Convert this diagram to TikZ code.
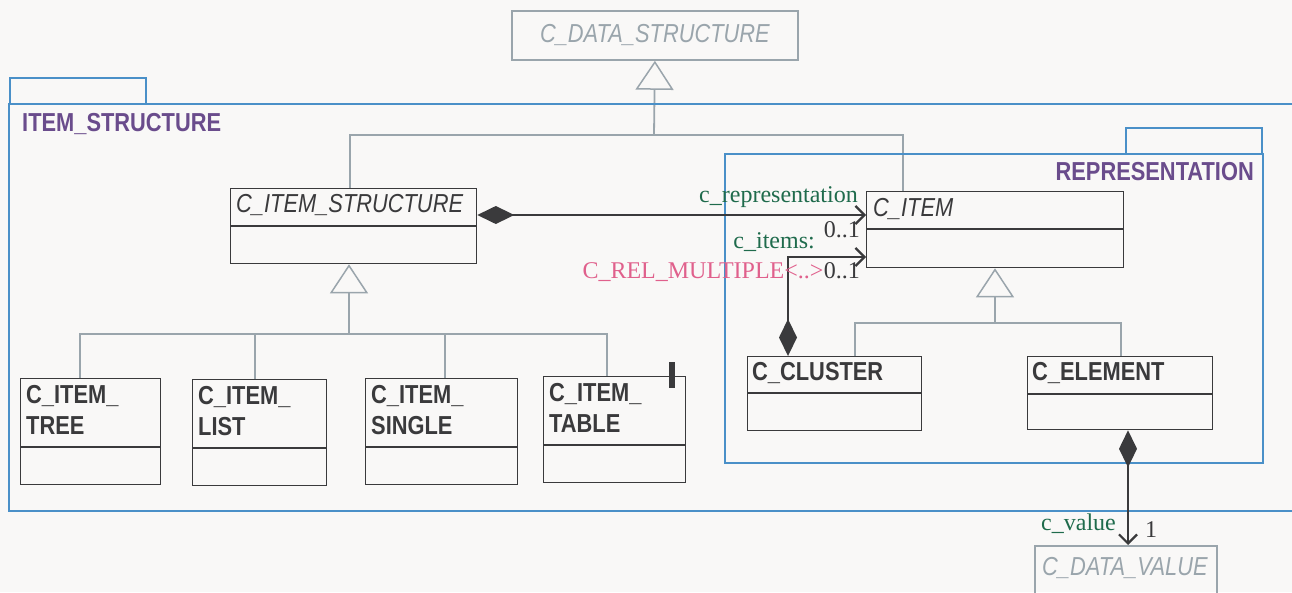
\documentclass[tikz,border=0pt]{standalone}
\usepackage{fontspec}
\setmainfont{Liberation Serif}
\setsansfont{Liberation Sans}[FakeStretch=0.84]
\usepackage{xcolor}
\usepackage{tikz}
\usetikzlibrary{calc}
\usetikzlibrary{arrows.meta, positioning, backgrounds}

\definecolor{paper}{HTML}{F9F8F7}
\definecolor{pkgblue}{HTML}{4A90C8}
\definecolor{pkgpurple}{HTML}{6A4C8C}
\definecolor{gengrey}{HTML}{9AA5AC}
\definecolor{boxdark}{HTML}{3A3A3C}
\definecolor{rolegreen}{HTML}{1F6B4C}
\definecolor{relpink}{HTML}{E0608C}

\begin{document}
\begin{tikzpicture}[x=1pt,y=-1pt,
                    class box/.style={draw=boxdark,line width=1.3pt,rectangle,anchor=north west,inner sep=0pt},
                    ghost box/.style={draw=gengrey,line width=1.8pt,rectangle,anchor=north west,inner sep=0pt},
                    class title/.style={font=\sffamily\bfseries\fontsize{26}{31}\selectfont,text=boxdark,anchor=north west,align=left,inner sep=0pt},
                    abstract title/.style={font=\sffamily\itshape\fontsize{26}{31}\selectfont,text=boxdark,anchor=north west,inner sep=0pt},
                    pkg/.style={draw=pkgblue,line width=1.8pt},
                    pkg label/.style={font=\sffamily\bfseries\fontsize{26}{30}\selectfont,text=pkgpurple,inner sep=0pt},
                    gen/.style={draw=gengrey,line width=1.8pt},
                    gen head/.style={-{Triangle[length=29pt,width=38pt,fill=paper,line width=1.5pt]}},
                    comp/.style={draw=boxdark,line width=2.2pt,{Diamond[length=37pt,width=18pt,fill=boxdark]}-{Straight Barb[length=9pt,width=18pt]}},
                    role/.style={font=\fontsize{24}{28}\selectfont,text=rolegreen,inner sep=0pt},
                    mult/.style={font=\fontsize{24}{28}\selectfont,text=boxdark,inner sep=0pt}]

\useasboundingbox (0,0) rectangle (1292,592);
\fill[paper] (0,0) rectangle (1292,592);

% classes
\node[ghost box,minimum width=286pt,minimum height=49pt] (CDataStructure) at (511,10) {};
\node[font=\sffamily\itshape\fontsize{26}{31}\selectfont,text=gengrey,inner sep=0pt] (CDataStructureTitle) at (CDataStructure.center) {C\_DATA\_STRUCTURE};

\node[class box,minimum width=246pt,minimum height=75pt] (CItemStructure) at (230,188) {};
\node[abstract title] (CItemStructureTitle) at ($(CItemStructure.north west)+(6,6)$) {C\_ITEM\_STRUCTURE};
\draw[draw=boxdark,line width=1.3pt] ($(CItemStructure.north west)+(0,38)$) -- ($(CItemStructure.north east)+(0,38)$);

\node[class box,minimum width=257pt,minimum height=76pt] (CItem) at (866,191) {};
\node[abstract title] (CItemTitle) at ($(CItem.north west)+(7,7)$) {C\_ITEM};
\draw[draw=boxdark,line width=1.3pt] ($(CItem.north west)+(0,38)$) -- ($(CItem.north east)+(0,38)$);

\node[class box,minimum width=174pt,minimum height=74pt] (CCluster) at (747,356) {};
\node[class title] (CClusterTitle) at ($(CCluster.north west)+(5,6)$) {C\_CLUSTER};
\draw[draw=boxdark,line width=1.3pt] ($(CCluster.north west)+(0,37)$) -- ($(CCluster.north east)+(0,37)$);

\node[class box,minimum width=185pt,minimum height=73pt] (CElement) at (1027,356) {};
\node[class title] (CElementTitle) at ($(CElement.north west)+(5,6)$) {C\_ELEMENT};
\draw[draw=boxdark,line width=1.3pt] ($(CElement.north west)+(0,38)$) -- ($(CElement.north east)+(0,38)$);

\node[ghost box,minimum width=182pt,minimum height=60pt] (CDataValue) at (1034,545) {};
\node[font=\sffamily\itshape\fontsize{26}{31}\selectfont,text=gengrey,anchor=north west,inner sep=0pt] (CDataValueTitle) at ($(CDataValue.north west)+(8,12)$) {C\_DATA\_VALUE};

\foreach \name/\x/\y/\w/\txt in {CItemTree/20/378/140/TREE,CItemList/192/379/134/LIST,CItemSingle/365/378/152/SINGLE,CItemTable/543/376/142/TABLE}
  {\node[class box,minimum width=\w pt,minimum height=106pt] (\name) at (\x,\y) {};
   \node[class title] (\name-title) at ($(\name.north west)+(6,7)$) {C\_ITEM\_\\\txt};
   \draw[draw=boxdark,line width=1.3pt] ($(\name.north west)+(0,69)$) -- ($(\name.north east)+(0,69)$);}

\fill[boxdark] (669,362) rectangle (675,388);

% generalisations
\coordinate (TopBar) at (654,135);
\coordinate (SubBar) at (349,334);
\coordinate (RepBar) at (995,323);

\draw[gen,gen head] (TopBar) -- (CDataStructure.south);
\draw[gen] ($(CItemStructure.north west)+(120,0)$) |- (TopBar);
\draw[gen] ($(CItem.north west)+(37,0)$) |- (TopBar);

\draw[gen,gen head] (SubBar) -- ($(CItemStructure.south west)+(119,0)$);
\draw[gen] ($(CItemTree.north west)+(60,0)$) |- (SubBar);
\draw[gen] ($(CItemList.north west)+(63,0)$) |- (SubBar);
\draw[gen] ($(CItemSingle.north west)+(80,0)$) |- (SubBar);
\draw[gen] ($(CItemTable.north west)+(64,0)$) |- (SubBar);

\draw[gen,gen head] (RepBar) -- ($(CItem.south west)+(129,0)$);
\draw[gen] ($(CCluster.north west)+(108,0)$) |- (RepBar);
\draw[gen] ($(CElement.north west)+(94,0)$) |- (RepBar);

% packages
\draw[pkg] (10,78) rectangle (146,104);
\draw[pkg] (9,104) rectangle (1300,511);
\node[pkg label,anchor=base west] (ItemStructureLabel) at (22,131) {ITEM\_STRUCTURE};

\draw[pkg] (1126,128) rectangle (1262,154);
\draw[pkg] (725,154) rectangle (1263,463);
\node[pkg label,anchor=base east] (RepresentationLabel) at (1254,180) {REPRESENTATION};

% compositions
\draw[comp] ($(CItemStructure.north east)+(0,27)$) -- ($(CItem.north west)+(0,24)$);
\node[role,anchor=base east] (RepRole) at (858,202) {c\_representation};
\node[mult,anchor=base east] (RepMult) at (860,237) {0..1};

\draw[comp] ($(CCluster.north west)+(41,0)$) |- ($(CItem.north west)+(0,66)$);
\node[role,anchor=base east] (ItemsRole) at (815,248) {c\_items:};
\node[mult,anchor=base east] (ItemsMult) at (860,278) {0..1};
\node[role,text=relpink,anchor=base east] (ItemsRel) at (ItemsMult.base west) {C\_REL\_MULTIPLE<..>};

\draw[comp] ($(CElement.south west)+(101,0)$) -- ($(CDataValue.north west)+(94,0)$);
\node[role,anchor=base east] (ValueRole) at (1116,530) {c\_value};
\node[mult,anchor=base west] (ValueMult) at (1145,537) {1};

\end{tikzpicture}
\end{document}
